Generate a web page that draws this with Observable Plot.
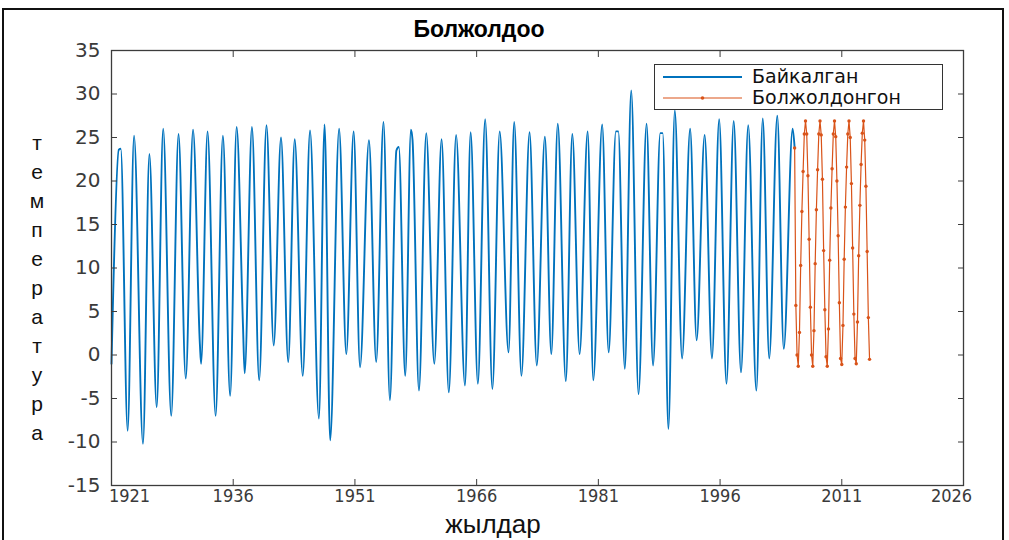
<!DOCTYPE html>
<html><head><meta charset="utf-8">
<script src="https://cdn.jsdelivr.net/npm/d3@7"></script>
<script src="https://cdn.jsdelivr.net/npm/@observablehq/plot@0.6"></script>
<style>
body{margin:0;background:#fff;}
#wrap{position:relative;width:1009px;height:540px;overflow:hidden;font-family:"Liberation Sans",Arial,sans-serif;background:#fff;}
#border{position:absolute;left:2px;top:8px;width:1002px;height:560px;border:2px solid #111;box-sizing:border-box;}
#chart{position:absolute;left:0;top:0;}
#title{position:absolute;left:329px;width:300px;top:16px;text-align:center;font-weight:bold;font-size:23px;color:#000;}
#xlabel{position:absolute;left:393px;width:200px;top:511px;height:26px;text-align:center;font-size:26px;line-height:26px;color:#111;font-family:"Liberation Sans",Arial,sans-serif;}
#ylabel{position:absolute;left:27px;width:20px;top:128px;text-align:center;font-size:21px;line-height:29px;word-break:break-all;color:#111;}
#legend{position:absolute;left:654px;top:64px;width:289px;height:46px;border:1.5px solid #333;box-sizing:border-box;background:#fff;}
#legend svg{position:absolute;left:0;top:0;}
#legend span{position:absolute;left:97px;font-size:19px;color:#111;line-height:20px;font-family:"DejaVu Sans",sans-serif;}
</style></head>
<body>
<div id="wrap">
  <div id="border"></div>
  <div id="chart"></div>
  <div id="title">Болжолдоо</div>
  <div id="xlabel">жылдар</div>
  <div id="ylabel">температура</div>
  <div id="legend"></div>
</div>
<script>
// ---- data ----
const xTicks = [1921, 1936, 1951, 1966, 1981, 1996, 2011, 2026];
const yTicks = [-15, -10, -5, 0, 5, 10, 15, 20, 25, 30, 35];
const seriesNames = ["Байкалган", "Болжолдонгон"];

const obsYear = [
 1921.0, 1921.9, 1922.14, 1922.99, 1923.78, 1924.88, 1925.67, 1926.57, 1927.37, 1928.36,
 1929.26, 1930.15, 1931.05, 1931.89, 1932.04, 1932.84, 1933.83, 1934.73, 1935.62, 1936.42,
 1937.21, 1937.41, 1938.31, 1939.20, 1940.10, 1940.99, 1941.89, 1942.78, 1943.58, 1944.57,
 1945.47, 1946.56, 1947.26, 1947.95, 1949.05, 1949.94, 1950.84, 1951.63, 1952.73, 1953.62,
 1954.52, 1955.31, 1956.11, 1956.41, 1957.20, 1957.90, 1958.10, 1958.89, 1959.79, 1960.78,
 1961.68, 1962.57, 1963.47, 1964.56, 1965.26, 1966.15, 1967.05, 1967.94, 1968.84, 1969.93,
 1970.63, 1971.52, 1972.52, 1973.41, 1974.41, 1975.20, 1976.00, 1976.99, 1977.79, 1978.69,
 1979.68, 1980.38, 1981.47, 1982.27, 1983.16, 1983.46, 1984.26, 1985.05, 1985.95, 1986.94,
 1987.74, 1988.63, 1988.93, 1989.63, 1990.42, 1991.32, 1992.31, 1993.11, 1994.10, 1995.00,
 1995.89, 1996.79, 1997.68, 1998.58, 1999.47, 2000.47, 2001.26, 2002.06, 2003.05, 2003.85,
 2004.94, 2005.19
];
const obsTemp = [
 -1.0, 23.6, 23.7, -8.7, 25.2, -10.2, 23.1, -6.0, 26.0, -7.0,
 25.4, -2.7, 25.9, 1.3, -1.0, 25.7, -7.0, 25.2, -4.7, 26.2,
 3.2, -2.1, 26.2, -2.9, 26.4, 1.1, 25.0, -0.8, 24.8, -2.4,
 25.8, -7.3, 26.5, -9.8, 26.0, 0.1, 25.7, -1.4, 24.7, -0.8,
 26.8, -5.2, 23.5, 23.9, -2.4, 25.9, 24.7, -4.1, 25.5, -1.0,
 24.8, -4.3, 25.3, -3.5, 25.6, -3.3, 27.1, -3.9, 25.7, 0.3,
 26.8, -2.4, 25.6, -1.2, 25.1, 0.1, 26.6, -3.0, 25.4, 0.1,
 25.7, -2.9, 26.5, 0.3, 25.7, 25.7, -1.6, 30.4, -4.5, 26.6,
 -1.2, 25.5, 25.5, -8.5, 28.1, -0.4, 26.0, 1.7, 25.3, -0.4,
 27.1, -3.3, 26.9, -2.0, 26.4, -4.1, 27.2, -0.4, 27.5, 0.7,
 26.0, 23.8
];

// forecast series: monthly values starting where the observed series ends
const fcStart = 2005.19;
const fcMonth = 0.1489;
const fcTemp = [
 23.8, 5.7, 0.0, -1.3, 2.6, 10.3, 16.5, 21.1, 25.4, 26.9,
 25.4, 20.6, 13.3, 5.5, 0.0, -1.3, 2.8, 10.5, 16.7, 21.3, 25.4, 26.9,
 25.3, 20.2, 12.0, 5.2, -0.2, -1.3, 3.0, 10.9, 16.9, 21.4, 25.4, 26.9,
 25.1, 20.0, 13.7, 6.0, -0.4, -1.1, 3.4, 11.0, 17.0, 21.6, 25.4, 26.9,
 25.0, 19.7, 12.3, 4.7, -0.4, -1.0, 3.8, 11.4, 17.2, 21.9, 25.5, 26.9,
 24.7, 19.4, 11.9, 4.3, -0.5
];

const colors = ["#0072BD", "#D95319"];

// ---- build ----
const obs = obsYear.map((x, i) => ({x, t: obsTemp[i]}));
const fc = fcTemp.map((t, i) => ({x: fcStart + i * fcMonth, t}));
const midTicks = xTicks.slice(1, -1);
const axisColor = "#3c3c3c";
const xlab = {fill: "#3a3a3a", stroke: null, fontSize: 18, label: null,
  fontFamily: "'Liberation Sans Narrow', 'Arial Narrow', 'DejaVu Sans Condensed', sans-serif"};
const ylab = {fill: "#3a3a3a", stroke: null, fontSize: 20, label: null, fontFamily: "'DejaVu Sans', sans-serif"};

const chart = Plot.plot({
  width: 1009, height: 540,
  marginLeft: 111, marginRight: 46, marginTop: 50, marginBottom: 55,
  style: {fontFamily: "'Liberation Sans', Arial, sans-serif", background: "transparent", overflow: "visible"},
  x: {domain: [xTicks[0], xTicks[xTicks.length - 1]], label: null},
  y: {domain: [yTicks[0], yTicks[yTicks.length - 1]], label: null},
  marks: [
    Plot.line(obs, {x: "x", y: "t", stroke: colors[0], strokeWidth: 1.9, curve: "monotone-x"}),
    Plot.line(fc, {x: "x", y: "t", stroke: colors[1], strokeWidth: 1.2}),
    Plot.dot(fc, {x: "x", y: "t", fill: colors[1], r: 1.7}),
    Plot.frame({stroke: axisColor, strokeWidth: 1.3}),
    Plot.axisX(xTicks, {anchor: "bottom", tickSize: -6, tickFormat: () => "", stroke: axisColor, label: null}),
    Plot.axisX(xTicks, {anchor: "top", tickSize: -6, tickFormat: () => "", stroke: axisColor, label: null}),
    Plot.axisY(yTicks, {anchor: "left", tickSize: -6, tickFormat: () => "", stroke: axisColor, label: null}),
    Plot.axisY(yTicks, {anchor: "right", tickSize: -6, tickFormat: () => "", stroke: axisColor, label: null}),
    Plot.axisX(midTicks, {anchor: "bottom", tickSize: 0, tickPadding: 4, tickFormat: d => String(d), ...xlab}),
    Plot.axisX([xTicks[0]], {anchor: "bottom", tickSize: 0, tickPadding: 4, dx: 18, tickFormat: d => String(d), ...xlab}),
    Plot.axisX([xTicks[xTicks.length - 1]], {anchor: "bottom", tickSize: 0, tickPadding: 4, dx: -12, tickFormat: d => String(d), ...xlab}),
    Plot.axisY(yTicks, {anchor: "left", tickSize: 0, tickPadding: 11, tickFormat: d => String(d), ...ylab})
  ]
});
document.getElementById("chart").appendChild(chart);

// legend
const lg = document.getElementById("legend");
const ns = "http://www.w3.org/2000/svg";
const svg = document.createElementNS(ns, "svg");
svg.setAttribute("width", 289); svg.setAttribute("height", 46);
[12, 33].forEach((cy, i) => {
  const l = document.createElementNS(ns, "line");
  l.setAttribute("x1", 8); l.setAttribute("x2", 87);
  l.setAttribute("y1", cy); l.setAttribute("y2", cy);
  l.setAttribute("stroke", colors[i]); l.setAttribute("stroke-width", i ? 1.2 : 1.9);
  svg.appendChild(l);
  if (i === 1) {
    const c = document.createElementNS(ns, "circle");
    c.setAttribute("cx", 47.5); c.setAttribute("cy", cy); c.setAttribute("r", 1.8);
    c.setAttribute("fill", colors[i]);
    svg.appendChild(c);
  }
  const s = document.createElement("span");
  s.textContent = seriesNames[i];
  s.style.top = (cy - 11) + "px";
  lg.appendChild(s);
});
lg.prepend(svg);
</script>
</body></html>
